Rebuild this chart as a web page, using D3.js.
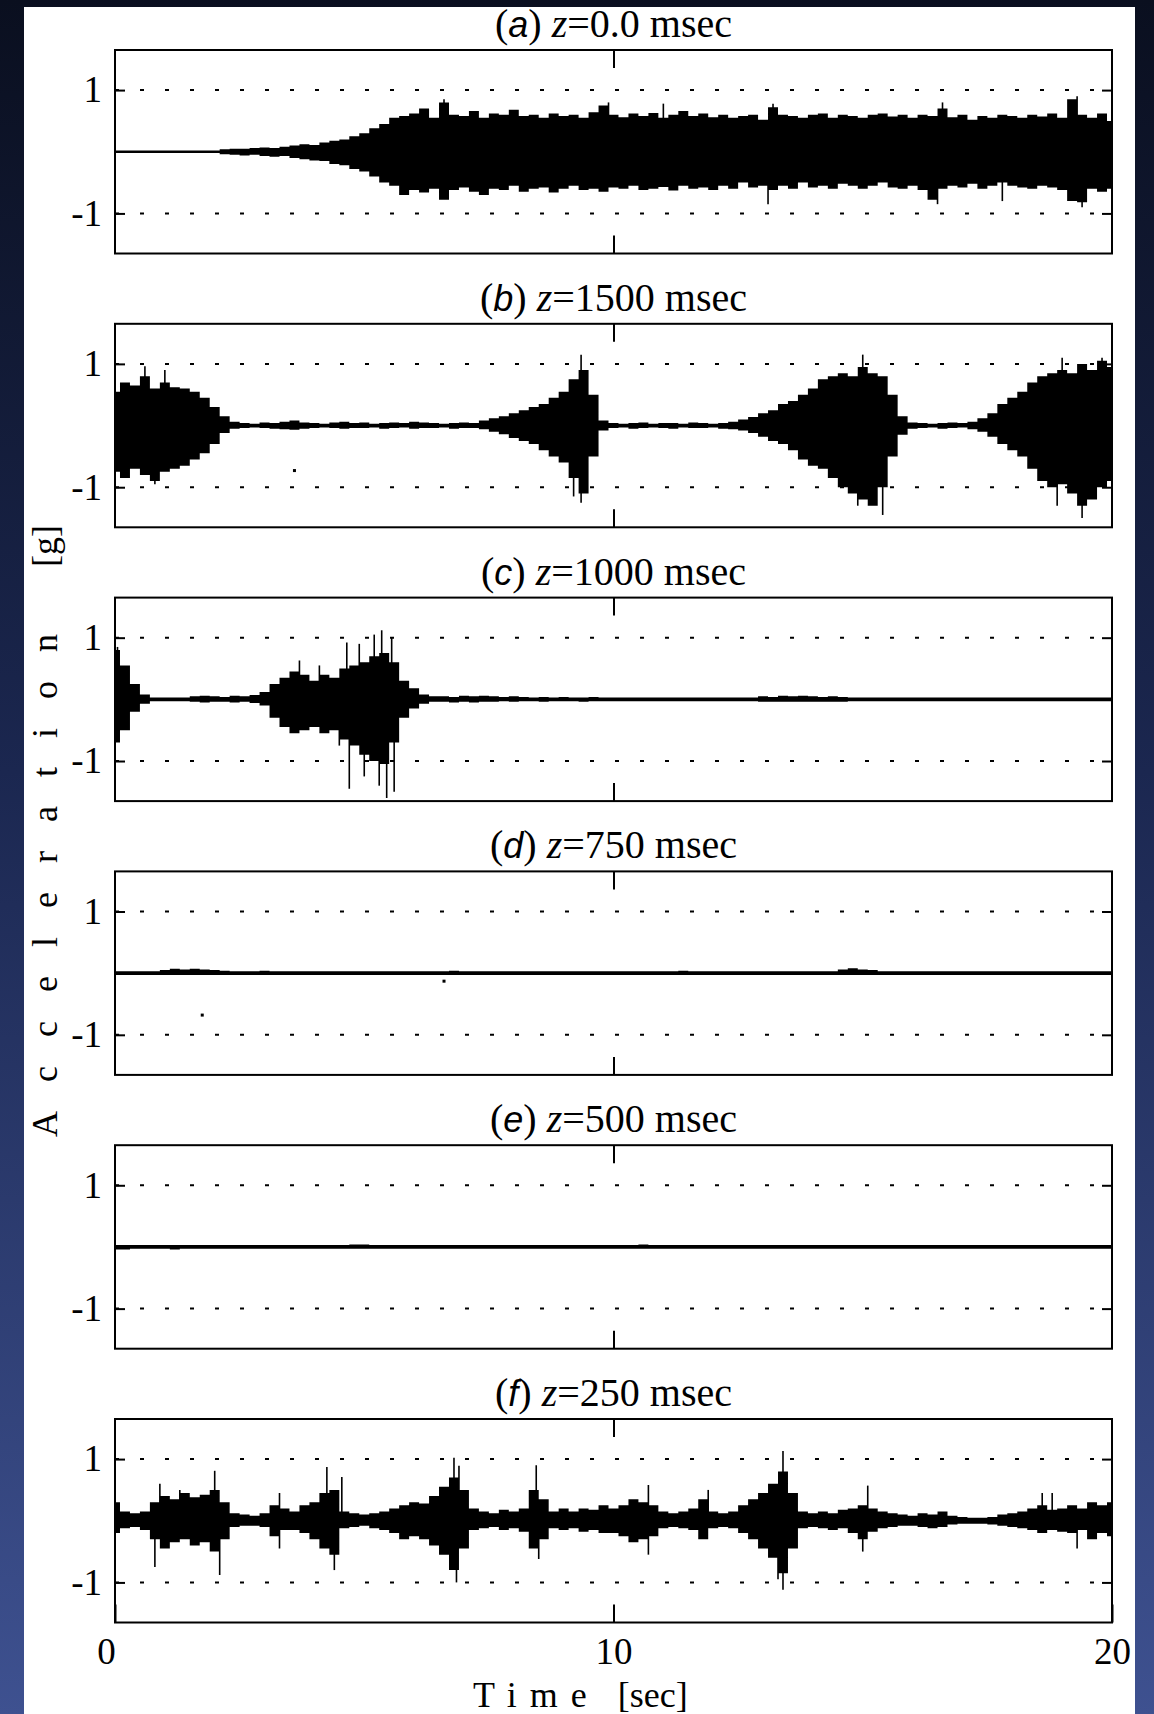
<!DOCTYPE html>
<html><head><meta charset="utf-8">
<script src="https://cdn.jsdelivr.net/npm/d3@7"></script>
<style>
html,body{margin:0;padding:0;background:#0b1122;}
svg{display:block;}
</style></head><body>
<svg id="chart" width="1154" height="1714"></svg>
<script>
// ---------------- DATA ----------------
const sampleTimes = [
0,0.2,0.4,0.6,0.8,1,1.2,1.4,1.6,1.8,2,2.2,2.4,2.6,2.8,3,3.2,3.4,3.6,3.8,
4,4.2,4.4,4.6,4.8,5,5.2,5.4,5.6,5.8,6,6.2,6.4,6.6,6.8,7,7.2,7.4,7.6,7.8,
8,8.2,8.4,8.6,8.8,9,9.2,9.4,9.6,9.8,10,10.2,10.4,10.6,10.8,11,11.2,11.4,11.6,11.8,
12,12.2,12.4,12.6,12.8,13,13.2,13.4,13.6,13.8,14,14.2,14.4,14.6,14.8,15,15.2,15.4,15.6,15.8,
16,16.2,16.4,16.6,16.8,17,17.2,17.4,17.6,17.8,18,18.2,18.4,18.6,18.8,19,19.2,19.4,19.6,19.8,20];

const panelLetters = ["a","b","c","d","e","f"];
const panelDepths = ["0.0","1500","1000","750","500","250"];
const yTickValues = [-1, 1];
const xTickValues = [0, 10, 20];
const xTickLabels = ["0", "10", "20"];

// (a) z=0.0 msec : upper / lower envelope [g]
const aHi = [0.02,0.02,0.02,0.02,0.02,0.02,0.02,0.02,0.02,0.02,0.02,
0.04,0.05,0.05,0.06,0.07,0.06,0.08,
0.1,0.12,0.11,0.15,0.18,0.2,0.25,
0.3,
0.38,0.45,0.55,0.58,0.62,0.7,0.55,0.8,0.6,0.58,
0.66,0.55,0.62,0.6,0.68,0.58,0.6,0.55,0.62,0.58,
0.6,0.55,0.64,0.75,0.6,0.56,0.62,0.58,0.63,0.55,
0.6,0.66,0.58,0.62,0.56,0.6,0.55,0.58,0.6,0.52,
0.72,0.6,0.58,0.55,0.6,0.62,0.55,0.6,0.58,0.55,
0.6,0.62,0.57,0.6,0.55,0.6,0.58,0.7,0.56,0.6,
0.52,0.58,0.55,0.6,0.58,0.55,0.6,0.57,0.62,0.55,
0.85,0.6,0.55,0.62,0.5];
const aLo = [-0.02,-0.02,-0.02,-0.02,-0.02,-0.02,-0.02,-0.02,-0.02,-0.02,-0.02,
-0.04,-0.05,-0.06,-0.05,-0.07,-0.08,-0.07,
-0.1,-0.12,-0.14,-0.15,-0.2,-0.22,-0.28,
-0.32,
-0.4,-0.5,-0.55,-0.7,-0.62,-0.66,-0.6,-0.78,-0.62,-0.58,
-0.65,-0.7,-0.6,-0.62,-0.55,-0.65,-0.6,-0.58,-0.66,-0.6,
-0.55,-0.62,-0.6,-0.65,-0.58,-0.6,-0.55,-0.62,-0.6,-0.57,
-0.63,-0.55,-0.6,-0.58,-0.62,-0.55,-0.6,-0.5,-0.58,-0.55,
-0.62,-0.55,-0.6,-0.5,-0.58,-0.55,-0.6,-0.52,-0.55,-0.6,
-0.55,-0.5,-0.58,-0.6,-0.55,-0.62,-0.78,-0.6,-0.55,-0.58,
-0.52,-0.6,-0.55,-0.5,-0.55,-0.58,-0.6,-0.55,-0.58,-0.62,
-0.8,-0.82,-0.6,-0.65,-0.6];
const aSpikes = [[6.6,0.85],[9.9,0.8],[13.2,0.78],[16.6,0.8],[19.3,0.9],[13.1,-0.85],[16.5,-0.85],[19.4,-0.9],[11.0,0.78],[17.8,-0.8]];
const aDots = [];

// (b) z=1500 msec
const bHi = [0.55,0.7,0.65,0.8,0.6,0.7,0.62,
0.6,0.55,0.45,0.3,0.15,
0.06,
0.04,0.03,0.05,0.04,0.06,0.08,0.05,0.04,0.03,0.05,0.06,0.04,0.05,0.03,0.04,0.05,0.04,0.06,0.05,0.04,0.03,0.04,0.05,0.04,
0.08,0.12,0.15,0.2,0.25,0.3,0.35,0.45,0.55,0.75,0.9,0.5,0.08,
0.04,0.03,0.04,0.05,0.03,0.04,0.04,0.03,0.05,0.04,0.03,0.04,0.06,
0.1,0.14,0.2,0.25,0.35,0.4,0.5,0.6,0.75,0.8,0.85,0.8,0.95,0.85,0.8,0.5,0.15,0.05,
0.04,0.03,0.04,0.05,0.04,0.06,
0.12,0.2,0.35,0.45,0.55,0.7,0.8,0.85,0.9,0.85,1.0,0.9,1.05,0.95];
const bLo = [-0.75,-0.85,-0.7,-0.8,-0.9,-0.75,-0.7,
-0.65,-0.55,-0.45,-0.3,-0.12,
-0.05,
-0.04,-0.03,-0.04,-0.05,-0.06,-0.07,-0.05,-0.04,-0.03,-0.04,-0.05,-0.04,-0.04,-0.03,-0.05,-0.04,-0.03,-0.05,-0.04,-0.04,-0.03,-0.05,-0.04,-0.04,
-0.06,-0.1,-0.14,-0.2,-0.25,-0.3,-0.4,-0.5,-0.6,-0.85,-1.1,-0.5,-0.08,
-0.04,-0.03,-0.05,-0.04,-0.03,-0.04,-0.05,-0.03,-0.04,-0.04,-0.03,-0.05,-0.06,
-0.08,-0.12,-0.18,-0.25,-0.3,-0.4,-0.55,-0.65,-0.7,-0.85,-1.0,-1.1,-1.2,-1.3,-1.0,-0.5,-0.15,-0.05,
-0.04,-0.03,-0.05,-0.04,-0.03,-0.06,
-0.1,-0.18,-0.3,-0.4,-0.5,-0.7,-0.9,-1.0,-0.95,-1.1,-1.3,-1.2,-1.0,-0.9];
const bSpikes = [[0.6,0.96],[1.0,0.9],[0.8,-0.95],[9.35,1.15],[9.35,-1.25],[9.2,-1.15],[15.0,1.15],[15.4,-1.45],[14.9,-1.3],[19.4,-1.5],[19.0,1.1],[19.8,1.1],[18.9,-1.3]];
const bDots = [[3.6,-0.73]];

// (c) z=1000 msec
const cHi = [0.8,0.55,0.25,0.08,
0.03,0.03,0.03,0.03,
0.05,0.06,0.05,0.04,0.06,0.05,0.07,
0.12,0.25,0.35,0.45,0.4,0.3,0.4,0.35,0.5,0.55,0.6,0.7,0.75,0.6,0.3,0.18,0.08,0.05,
0.05,0.04,0.06,0.05,0.06,0.05,0.04,0.05,0.04,0.03,0.04,0.03,0.04,0.03,0.03,0.04,0.03,0.03,
0.03,0.03,0.03,0.03,0.03,0.03,0.03,0.03,0.03,0.03,0.03,0.03,0.03,0.03,
0.05,0.04,0.06,0.05,0.06,0.05,0.04,0.05,0.04,
0.03,0.03,0.03,0.03,0.03,0.03,0.03,0.03,0.03,0.03,0.03,0.03,0.03,0.03,0.03,0.03,0.03,0.03,0.03,0.03,0.03,0.03,0.03,0.03,0.03,0.03,0.03];
const cLo = [-0.7,-0.5,-0.2,-0.07,
-0.03,-0.03,-0.03,-0.03,
-0.04,-0.05,-0.04,-0.04,-0.05,-0.04,-0.06,
-0.1,-0.3,-0.45,-0.55,-0.5,-0.45,-0.55,-0.5,-0.65,-0.75,-0.9,-1.0,-1.05,-0.7,-0.3,-0.15,-0.07,-0.04,
-0.04,-0.05,-0.04,-0.05,-0.04,-0.04,-0.03,-0.04,-0.03,-0.03,-0.04,-0.03,-0.03,-0.03,-0.04,-0.03,-0.03,-0.03,
-0.03,-0.03,-0.03,-0.03,-0.03,-0.03,-0.03,-0.03,-0.03,-0.03,-0.03,-0.03,-0.03,-0.03,
-0.04,-0.04,-0.04,-0.04,-0.04,-0.04,-0.04,-0.04,-0.04,
-0.03,-0.03,-0.03,-0.03,-0.03,-0.03,-0.03,-0.03,-0.03,-0.03,-0.03,-0.03,-0.03,-0.03,-0.03,-0.03,-0.03,-0.03,-0.03,-0.03,-0.03,-0.03,-0.03,-0.03,-0.03,-0.03,-0.03];
const cSpikes = [[0.05,0.85],[3.7,0.63],[4.1,0.55],[4.5,-0.75],[4.65,0.92],[4.7,-1.45],[4.9,0.9],[5.0,-1.25],[5.2,1.05],[5.35,1.12],[5.45,-1.6],[5.55,1.0],[5.6,-1.5],[5.3,-1.4]];
const cDots = [];

// (d) z=750 msec
const dHi = [0.03,0.03,0.03,0.03,0.03,
0.05,0.07,0.06,0.07,0.06,0.05,0.04,
0.03,0.03,0.03,0.04,0.03,0.03,0.03,0.03,0.03,0.03,
0.03,0.03,0.03,0.03,0.03,0.03,0.03,0.03,0.03,0.03,
0.03,0.03,0.04,0.03,0.03,0.03,0.03,0.03,0.03,0.03,
0.03,0.03,0.03,0.03,0.03,0.03,0.03,0.03,0.03,0.03,
0.03,0.03,0.03,0.03,0.03,0.04,0.03,0.03,0.03,0.03,
0.03,0.03,0.03,0.03,0.03,0.03,0.03,0.03,0.03,0.03,0.03,
0.06,0.08,0.06,0.05,
0.03,0.03,0.03,0.03,0.03,0.03,0.03,0.03,0.03,0.03,0.03,0.03,
0.03,0.03,0.03,0.03,0.03,0.03,0.03,0.03,0.03,0.03,0.03,0.03];
const dLo = [-0.03,-0.03,-0.03,-0.03,-0.03,-0.03,-0.03,-0.03,-0.03,-0.03,
-0.03,-0.03,-0.03,-0.03,-0.03,-0.03,-0.03,-0.03,-0.03,-0.03,
-0.03,-0.03,-0.03,-0.03,-0.03,-0.03,-0.03,-0.03,-0.03,-0.03,
-0.03,-0.03,-0.03,-0.03,-0.03,-0.03,-0.03,-0.03,-0.03,-0.03,
-0.03,-0.03,-0.03,-0.03,-0.03,-0.03,-0.03,-0.03,-0.03,-0.03,
-0.03,-0.03,-0.03,-0.03,-0.03,-0.03,-0.03,-0.03,-0.03,-0.03,
-0.03,-0.03,-0.03,-0.03,-0.03,-0.03,-0.03,-0.03,-0.03,-0.03,
-0.03,-0.03,-0.03,-0.03,-0.03,-0.03,-0.03,-0.03,-0.03,-0.03,
-0.03,-0.03,-0.03,-0.03,-0.03,-0.03,-0.03,-0.03,-0.03,-0.03,
-0.03,-0.03,-0.03,-0.03,-0.03,-0.03,-0.03,-0.03,-0.03,-0.03,-0.03];
const dSpikes = [];
const dDots = [[1.75,-0.68],[6.6,-0.13]];

// (e) z=500 msec
const eHi = [0.03,0.03,0.03,0.03,0.03,0.03,0.03,0.03,0.03,0.03,
0.03,0.03,0.03,0.03,0.03,0.03,0.03,0.03,0.03,0.03,
0.03,0.03,0.03,0.03,0.04,0.04,0.03,0.03,0.03,0.03,
0.03,0.03,0.03,0.03,0.03,0.03,0.03,0.03,0.03,0.03,
0.03,0.03,0.03,0.03,0.03,0.03,0.03,0.03,0.03,0.03,
0.03,0.03,0.03,0.04,0.03,0.03,0.03,0.03,0.03,0.03,
0.03,0.03,0.03,0.03,0.03,0.03,0.03,0.03,0.03,0.03,
0.03,0.03,0.03,0.03,0.03,0.03,0.03,0.03,0.03,0.03,
0.03,0.03,0.03,0.03,0.03,0.03,0.03,0.03,0.03,0.03,
0.03,0.03,0.03,0.03,0.03,0.03,0.03,0.03,0.03,0.03,0.03];
const eLo = [-0.04,-0.04,-0.03,-0.03,-0.03,-0.03,-0.04,-0.03,-0.03,-0.03,
-0.03,-0.03,-0.03,-0.03,-0.03,-0.03,-0.03,-0.03,-0.03,-0.03,
-0.03,-0.03,-0.03,-0.03,-0.03,-0.03,-0.03,-0.03,-0.03,-0.03,
-0.03,-0.03,-0.03,-0.03,-0.03,-0.03,-0.03,-0.03,-0.03,-0.03,
-0.03,-0.03,-0.03,-0.03,-0.03,-0.03,-0.03,-0.03,-0.03,-0.03,
-0.03,-0.03,-0.03,-0.03,-0.03,-0.03,-0.03,-0.03,-0.03,-0.03,
-0.03,-0.03,-0.03,-0.03,-0.03,-0.03,-0.03,-0.03,-0.03,-0.03,
-0.03,-0.03,-0.03,-0.03,-0.03,-0.03,-0.03,-0.03,-0.03,-0.03,
-0.03,-0.03,-0.03,-0.03,-0.03,-0.03,-0.03,-0.03,-0.03,-0.03,
-0.03,-0.03,-0.03,-0.03,-0.03,-0.03,-0.03,-0.03,-0.03,-0.03,-0.03];
const eSpikes = [];
const eDots = [];

// (f) z=250 msec
const fHi = [0.3,0.15,0.12,0.15,0.3,0.4,0.35,0.45,0.38,0.42,
0.5,0.3,0.12,0.1,0.08,0.12,0.25,0.2,0.15,0.25,
0.3,0.45,0.5,0.15,0.12,0.1,0.12,0.15,0.2,0.25,
0.3,0.28,0.4,0.55,0.7,0.5,0.2,0.15,0.12,0.18,
0.15,0.2,0.5,0.35,0.15,0.2,0.15,0.2,0.18,0.25,
0.2,0.25,0.35,0.3,0.25,0.15,0.12,0.15,0.2,0.35,
0.15,0.12,0.15,0.25,0.35,0.45,0.6,0.8,0.45,0.15,
0.12,0.15,0.12,0.18,0.2,0.25,0.2,0.15,0.12,0.1,
0.08,0.12,0.1,0.15,0.08,0.06,0.05,0.05,0.06,0.1,
0.12,0.15,0.2,0.25,0.18,0.2,0.25,0.2,0.3,0.25,0.3];
const fLo = [-0.2,-0.12,-0.1,-0.15,-0.3,-0.45,-0.35,-0.3,-0.4,-0.35,
-0.5,-0.3,-0.1,-0.08,-0.08,-0.1,-0.25,-0.15,-0.15,-0.2,
-0.3,-0.45,-0.55,-0.12,-0.1,-0.08,-0.12,-0.15,-0.2,-0.3,
-0.25,-0.3,-0.4,-0.55,-0.8,-0.45,-0.15,-0.12,-0.1,-0.15,
-0.12,-0.18,-0.45,-0.3,-0.12,-0.15,-0.12,-0.18,-0.15,-0.2,
-0.2,-0.25,-0.35,-0.3,-0.25,-0.12,-0.1,-0.12,-0.15,-0.3,
-0.12,-0.1,-0.12,-0.2,-0.3,-0.45,-0.6,-0.85,-0.45,-0.12,
-0.1,-0.12,-0.15,-0.12,-0.2,-0.3,-0.18,-0.12,-0.1,-0.08,
-0.08,-0.1,-0.12,-0.1,-0.06,-0.05,-0.05,-0.05,-0.06,-0.08,
-0.1,-0.12,-0.15,-0.2,-0.15,-0.18,-0.2,-0.15,-0.3,-0.2,-0.25];
const fSpikes = [[0.9,0.6],[0.8,-0.75],[1.3,0.5],[2.0,0.81],[2.1,-0.88],[3.3,0.45],[3.3,-0.45],[4.25,0.87],[4.55,0.71],[4.4,-0.8],
[6.8,1.02],[6.9,0.89],[6.85,-1.0],[8.45,0.9],[8.5,-0.62],[10.7,0.58],[10.7,-0.55],[11.9,0.5],[13.4,1.13],[13.4,-1.12],[13.3,-0.95],
[15.1,0.57],[15.0,-0.5],[18.6,0.45],[18.8,0.45],[19.3,-0.45]];
const fDots = [];

const panelHi = [aHi,bHi,cHi,dHi,eHi,fHi];
const panelLo = [aLo,bLo,cLo,dLo,eLo,fLo];
const panelSpikes = [aSpikes,bSpikes,cSpikes,dSpikes,eSpikes,fSpikes];
const panelDots = [aDots,bDots,cDots,dDots,eDots,fDots];

// ---------------- DRAW ----------------
const W = 1154, H = 1714;
const plotLeft = 115, plotRight = 1112, firstTop = 50, panelStep = 273.8, panelHeight = 203.5;
const serif = "'Liberation Serif','Times New Roman',serif";
const sans = "'Liberation Sans',Arial,sans-serif";

const svg = d3.select("#chart");
const defs = svg.append("defs");
const grad = defs.append("linearGradient").attr("id","bg").attr("x1",0).attr("y1",0).attr("x2",0).attr("y2",1);
grad.append("stop").attr("offset","0%").attr("stop-color","#0a0f1f");
grad.append("stop").attr("offset","45%").attr("stop-color","#1b2750");
grad.append("stop").attr("offset","100%").attr("stop-color","#3e5190");
svg.append("rect").attr("width",W).attr("height",H).attr("fill","url(#bg)");
svg.append("rect").attr("x",24).attr("y",7).attr("width",1111).attr("height",H).attr("fill","#fff");

const x = d3.scaleLinear().domain([0,20]).range([plotLeft, plotRight]);

panelLetters.forEach((letter, k) => {
  const top = firstTop + k*panelStep;
  const bottom = top + panelHeight;
  const y = d3.scaleLinear().domain([-1.65,1.65]).range([bottom, top]);
  const g = svg.append("g");
  const data = sampleTimes.map((t,i) => ({t, hi: panelHi[k][i], lo: panelLo[k][i]}));

  // dotted grid at +-1
  g.selectAll("line.grid").data(yTickValues).join("line")
    .attr("class","grid")
    .attr("x1",plotLeft).attr("x2",plotRight)
    .attr("y1",d=>y(d)).attr("y2",d=>y(d))
    .attr("stroke","#000").attr("stroke-width",2).attr("stroke-dasharray","4 21");

  // signal envelope
  const area = d3.area().x(d=>x(d.t)).y0(d=>y(d.lo)).y1(d=>y(d.hi)).curve(d3.curveStep);
  g.append("path").datum(data).attr("d",area).attr("fill","#000");

  // spikes
  g.selectAll("line.spike").data(panelSpikes[k]).join("line")
    .attr("class","spike")
    .attr("x1",d=>x(d[0])).attr("x2",d=>x(d[0]))
    .attr("y1",y(0)).attr("y2",d=>y(d[1]))
    .attr("stroke","#000").attr("stroke-width",1.6);

  // isolated dots
  g.selectAll("rect.dot").data(panelDots[k]).join("rect")
    .attr("class","dot")
    .attr("x",d=>x(d[0])-1.5).attr("y",d=>y(d[1])-1.5)
    .attr("width",3).attr("height",3).attr("fill","#000");

  // axes
  const left = g.append("g").attr("transform",`translate(${plotLeft},0)`)
    .call(d3.axisLeft(y).tickValues(yTickValues).tickSize(-10).tickPadding(13).tickFormat(d=>String(d)));
  const right = g.append("g").attr("transform",`translate(${plotRight},0)`)
    .call(d3.axisRight(y).tickValues(yTickValues).tickSize(-10).tickFormat(""));
  const topAx = g.append("g").attr("transform",`translate(0,${top})`)
    .call(d3.axisTop(x).tickValues([10]).tickSize(-18).tickFormat(""));
  const isLast = k === panelLetters.length-1;
  const botAx = g.append("g").attr("transform",`translate(0,${bottom})`)
    .call(d3.axisBottom(x).tickValues(isLast ? xTickValues : [10]).tickSize(-18).tickPadding(15)
      .tickFormat(isLast ? ((d,i)=>xTickLabels[i]) : ""));
  [left,right,topAx,botAx].forEach(ax => {
    ax.select(".domain").remove();
    ax.selectAll(".tick line").attr("stroke","#000").attr("stroke-width",2);
    ax.selectAll("text").attr("font-family",serif).attr("font-size",37).attr("fill","#000");
  });
  if (isLast) botAx.selectAll(".tick text").filter(d=>d===0).attr("dx",-9);

  // frame
  g.append("rect").attr("x",plotLeft).attr("y",top)
    .attr("width",plotRight-plotLeft).attr("height",panelHeight)
    .attr("fill","none").attr("stroke","#000").attr("stroke-width",2);

  // title
  const title = g.append("text").attr("x",(plotLeft+plotRight)/2).attr("y",top-13)
    .attr("text-anchor","middle").attr("font-family",serif).attr("font-size",40).attr("fill","#000");
  title.append("tspan").text("(");
  title.append("tspan").attr("font-family",sans).attr("font-style","italic").attr("font-size",36).text(letter);
  title.append("tspan").text(") ");
  title.append("tspan").attr("font-style","italic").text("z");
  title.append("tspan").text("=" + panelDepths[k] + " msec");
});

// y axis label (rotated, letter spaced)
const yl = svg.append("text").attr("transform","translate(57,1137) rotate(-90)")
  .attr("font-family",serif).attr("font-size",36).attr("fill","#000");
yl.append("tspan").attr("letter-spacing",29).text("Acceleration");
yl.append("tspan").attr("dx",38).text("[g]");

// x axis label
const xl = svg.append("text").attr("x",473).attr("y",1707)
  .attr("font-family",serif).attr("font-size",36).attr("fill","#000");
xl.append("tspan").attr("letter-spacing",13).text("Time");
xl.append("tspan").attr("dx",18).text("[sec]");
</script>
</body></html>
